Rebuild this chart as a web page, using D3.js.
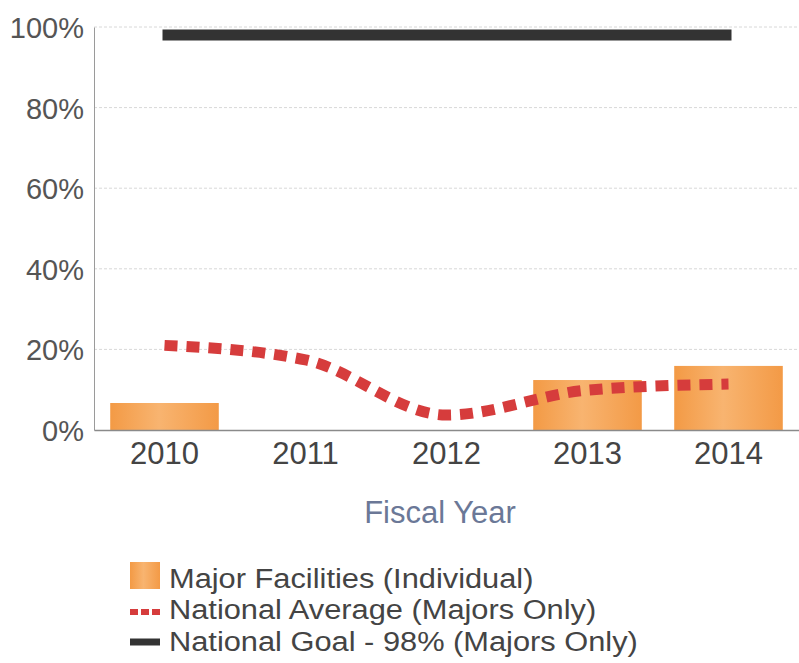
<!DOCTYPE html>
<html>
<head>
<meta charset="utf-8">
<script src="https://cdn.jsdelivr.net/npm/d3@7"></script>
<style>
  html, body { margin: 0; padding: 0; background: #fff; }
  svg { display: block; font-family: "Liberation Sans", Arial, sans-serif; }
</style>
</head>
<body>
<svg id="chart" width="799" height="663"></svg>
<script>
// Fiscal years on the x axis
const years = ["2010", "2011", "2012", "2013", "2014"];
// Major facilities (individual) share, % (0 = no bar)
const facilityValues = [6.7, 0, 0, 12.4, 15.9];
// National average (majors only), %
const nationalAverage = [21, 17.4, 3.7, 9.9, 11.4];
// National goal (majors only), %
const nationalGoal = 98;
// Y axis ticks, %
const yTicks = [0, 20, 40, 60, 80, 100];
// Legend entries
const legendLabels = ["Major Facilities (Individual)", "National Average (Majors Only)", "National Goal - 98% (Majors Only)"];

const svg = d3.select("#chart");
const margin = { left: 94, right: 799, top: 27, bottom: 430 };

const x = d3.scaleBand().domain(years).range([margin.left, margin.right]).paddingInner(0.23).paddingOuter(0.115);
const xc = d => x(d) + x.bandwidth() / 2;
const y = d3.scaleLinear().domain([0, 100]).range([margin.bottom, margin.top]);

const defs = svg.append("defs");
const grad = defs.append("linearGradient").attr("id", "barGrad").attr("x1", "0").attr("x2", "1").attr("y1", "0").attr("y2", "0");
grad.append("stop").attr("offset", "0%").attr("stop-color", "#f39a45");
grad.append("stop").attr("offset", "45%").attr("stop-color", "#f8b470");
grad.append("stop").attr("offset", "100%").attr("stop-color", "#f39a46");

// gridlines
svg.append("g").selectAll("line").data(yTicks.filter(t => t > 0)).join("line")
  .attr("x1", margin.left).attr("x2", margin.right)
  .attr("y1", d => y(d)).attr("y2", d => y(d))
  .attr("stroke", "#d8d8d8").attr("stroke-width", 1).attr("stroke-dasharray", "3,2");

// y axis
const yAxis = svg.append("g").attr("transform", `translate(${margin.left},0)`)
  .call(d3.axisLeft(y).tickValues(yTicks).tickFormat(d => d + "%").tickSize(0).tickPadding(10));
yAxis.select(".domain").attr("stroke", "#9a9a9a");
yAxis.selectAll("text").attr("font-size", 29).attr("fill", "#555").attr("font-family", "Liberation Sans, Arial, sans-serif").attr("dy", "0.36em");

// bars
svg.append("g").selectAll("rect").data(years.map((yr, i) => ({ yr, v: facilityValues[i] })).filter(d => d.v > 0)).join("rect")
  .attr("x", d => x(d.yr)).attr("width", x.bandwidth())
  .attr("y", d => y(d.v)).attr("height", d => y(0) - y(d.v))
  .attr("fill", "url(#barGrad)");

// x axis
const xAxis = svg.append("g").attr("transform", `translate(0,${margin.bottom})`)
  .call(d3.axisBottom(x).tickSize(0).tickPadding(12));
xAxis.select(".domain").attr("stroke", "#8a8a8a").attr("stroke-width", 1.5);
xAxis.selectAll("text").attr("font-size", 31).attr("fill", "#444").attr("font-family", "Liberation Sans, Arial, sans-serif");

// national average
const line = d3.line().x((d, i) => xc(years[i])).y(d => y(d)).curve(d3.curveMonotoneX);
svg.append("path").datum(nationalAverage).attr("d", line)
  .attr("fill", "none").attr("stroke", "#d63c3c").attr("stroke-width", 11)
  .attr("stroke-dasharray", "13,9");

// national goal
svg.append("line")
  .attr("x1", xc(years[0]) - 2).attr("x2", xc(years[years.length - 1]) + 3)
  .attr("y1", y(nationalGoal)).attr("y2", y(nationalGoal))
  .attr("stroke", "#333333").attr("stroke-width", 11);

// axis title
svg.append("text").attr("x", 440).attr("y", 523).attr("text-anchor", "middle")
  .attr("font-size", 31).attr("fill", "#6b7897").text("Fiscal Year");

// legend
const lg = svg.append("g");
const lx = 130;
lg.append("rect").attr("x", lx).attr("y", 562).attr("width", 30).attr("height", 27).attr("fill", "url(#barGrad)");
lg.append("line").attr("x1", lx).attr("x2", lx + 31).attr("y1", 612).attr("y2", 612)
  .attr("stroke", "#d63c3c").attr("stroke-width", 6).attr("stroke-dasharray", "8,3");
lg.append("line").attr("x1", lx).attr("x2", lx + 30).attr("y1", 642).attr("y2", 642)
  .attr("stroke", "#333333").attr("stroke-width", 7);
lg.append("g").attr("transform", "translate(169,0) scale(1.1,1)")
  .selectAll("text").data(legendLabels).join("text")
  .attr("x", 0).attr("y", (d, i) => 588 + i * 31.5)
  .attr("font-size", 28).attr("fill", "#444").text(d => d);
</script>
</body>
</html>
